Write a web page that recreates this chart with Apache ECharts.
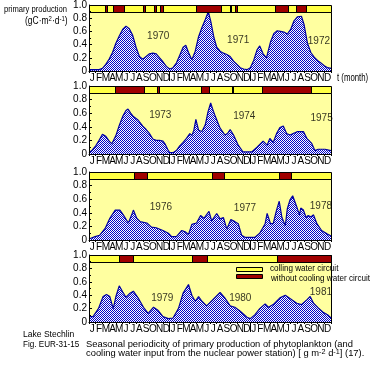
<!DOCTYPE html>
<html><head><meta charset="utf-8">
<script src="https://cdn.jsdelivr.net/npm/echarts@6/dist/echarts.min.js"></script>
<style>html,body{margin:0;padding:0;background:#fff}#c{width:381px;height:370px}</style>
</head><body><div id="c"></div>
<script>
const MONTHS = ['J','F','M','A','M','J','J','A','S','O','N','D'];
const Y_LABELS = ['0','0.2','0.4','0.6','0.8','1.0'];
// primary production per panel: [month since start of first year, value]
const prod1970 = [[0,0.02],[0.5,0.02],[1,0.02],[1.5,0.02],[2,0.04],[2.5,0.1],[3,0.18],[3.5,0.28],[4,0.42],[4.5,0.53],[5,0.63],[5.5,0.68],[6,0.64],[6.5,0.54],[7,0.36],[7.5,0.22],[8,0.18],[8.5,0.22],[9,0.26],[9.5,0.27],[10,0.26],[10.5,0.2],[11,0.14],[11.5,0.07],[12,0.03],[12.5,0.05],[13,0.12],[13.5,0.24],[14,0.36],[14.4,0.39],[14.8,0.28],[15.3,0.17],[15.8,0.3],[16.3,0.52],[16.8,0.66],[17.3,0.78],[17.75,0.9],[18.1,0.76],[18.6,0.5],[19,0.36],[19.5,0.3],[20,0.27],[20.5,0.25],[21,0.22],[21.5,0.15],[22,0.1],[22.5,0.05],[23,0.03],[23.5,0.02],[24,0.05],[24.5,0.16],[25,0.32],[25.4,0.38],[25.9,0.26],[26.4,0.2],[27,0.44],[27.5,0.57],[28,0.61],[28.5,0.6],[29,0.59],[29.5,0.56],[30,0.63],[30.5,0.76],[31,0.82],[31.6,0.83],[32,0.7],[32.5,0.42],[33,0.28],[33.5,0.21],[34,0.16],[34.5,0.12],[35,0.08],[35.5,0.05],[36,0.04]];
const prod1973 = [[0,0.02],[0.5,0.06],[1,0.12],[1.5,0.2],[2,0.29],[2.2,0.3],[2.5,0.26],[3,0.19],[3.4,0.15],[4,0.27],[4.5,0.42],[5,0.55],[5.5,0.64],[5.8,0.66],[6.2,0.6],[6.6,0.55],[7.3,0.5],[8,0.41],[8.5,0.36],[9,0.3],[9.5,0.22],[10,0.2],[10.5,0.2],[11,0.19],[11.3,0.15],[11.7,0.07],[12,0.02],[12.5,0.02],[13,0.05],[13.5,0.12],[14,0.17],[14.5,0.23],[15,0.3],[15.3,0.27],[15.6,0.35],[15.9,0.51],[16.3,0.35],[16.8,0.33],[17.3,0.43],[17.7,0.62],[18.1,0.75],[18.4,0.66],[18.8,0.55],[19.5,0.38],[20.2,0.28],[20.6,0.3],[21,0.36],[21.5,0.28],[22.2,0.13],[22.9,0.03],[23.5,0.03],[24.2,0.03],[25,0.1],[25.9,0.19],[26.5,0.13],[26.9,0.23],[27.4,0.17],[27.9,0.3],[28.4,0.39],[28.9,0.41],[29.4,0.3],[29.9,0.28],[30.6,0.31],[31,0.33],[31.9,0.33],[32.4,0.23],[33.1,0.16],[33.6,0.05],[34.1,0.07],[35.1,0.07],[36,0.05]];
const prod1976 = [[0,0.015],[0.9,0.05],[1.6,0.07],[2.4,0.17],[3.1,0.32],[3.9,0.44],[4.6,0.44],[5.1,0.37],[5.85,0.25],[6.35,0.37],[6.6,0.44],[7.1,0.32],[7.6,0.27],[8.6,0.25],[9.3,0.19],[10,0.18],[11,0.14],[11.8,0.1],[12.3,0.05],[13,0.05],[13.8,0.14],[14.3,0.12],[14.8,0.08],[15.3,0.23],[16,0.25],[16.6,0.36],[17.1,0.32],[17.85,0.42],[18.25,0.28],[19,0.39],[19.5,0.31],[20,0.33],[20.5,0.16],[21.1,0.3],[21.7,0.27],[22.2,0.24],[22.7,0.07],[23.2,0.04],[24.7,0.04],[25.4,0.1],[26.2,0.24],[26.5,0.39],[27,0.24],[27.4,0.24],[27.9,0.44],[28.3,0.57],[28.7,0.33],[29.2,0.21],[29.5,0.46],[29.9,0.59],[30.3,0.65],[30.9,0.49],[31.3,0.37],[31.5,0.47],[31.9,0.44],[32.3,0.33],[32.6,0.36],[33,0.34],[33.4,0.37],[33.9,0.24],[34.6,0.14],[35.4,0.09],[36,0.06]];
const prod1979 = [[0,0.08],[0.6,0.08],[1.4,0.2],[2.1,0.38],[2.6,0.41],[3.1,0.38],[3.6,0.2],[4,0.38],[4.5,0.54],[5,0.45],[5.5,0.37],[6.1,0.43],[6.6,0.46],[7.3,0.36],[8.1,0.22],[8.8,0.13],[9.6,0.22],[10.3,0.17],[11,0.08],[11.8,0.05],[12.5,0.06],[13.3,0.2],[14,0.43],[14.8,0.56],[15.3,0.4],[15.8,0.31],[16.3,0.38],[16.8,0.31],[17.5,0.24],[18.5,0.34],[19.5,0.44],[19.7,0.45],[20.2,0.36],[21,0.24],[21.7,0.22],[22.5,0.16],[23.5,0.07],[24,0.05],[24.7,0.11],[25.4,0.2],[26.2,0.27],[26.7,0.22],[27.4,0.26],[28.4,0.36],[29.2,0.4],[29.9,0.35],[30.9,0.28],[31.6,0.26],[32.4,0.33],[32.9,0.38],[33.4,0.28],[34.1,0.21],[34.9,0.14],[35.6,0.1],[36,0.06]];
// periods without cooling water circuit: [start month, end month]
const noCool1970 = [[2.42,2.72],[3.62,5.21],[8.08,8.38],[9.67,9.97],[10.56,11.05],[15.92,19.59],[20.98,21.17],[21.72,22.06],[27.67,29.65],[30.79,32.28]];
const noCool1973 = [[3.91,8.18],[10.12,10.46],[16.62,17.9],[21.23,21.38],[25.69,33.03]];
const noCool1976 = [[6.74,8.58],[18.25,20.13],[28.22,30.1]];
const noCool1979 = [[4.42,6.59],[15.37,17.6],[27.92,36]];
// year annotations: [month, value, label]
const years1970 = [[10.3,0.53,'1970'],[22.2,0.47,'1971'],[34.2,0.455,'1972']];
const years1973 = [[10.6,0.57,'1973'],[23.1,0.56,'1974'],[34.6,0.525,'1975']];
const years1976 = [[10.7,0.48,'1976'],[23.2,0.465,'1977'],[34.5,0.5,'1978']];
const years1979 = [[10.9,0.36,'1979'],[22.5,0.36,'1980'],[34.5,0.45,'1981']];

const panels = [
  {prod: prod1970, red: noCool1970, years: years1970, top: 5, h: 66},
  {prod: prod1973, red: noCool1973, years: years1973, top: 86, h: 68},
  {prod: prod1976, red: noCool1976, years: years1976, top: 172, h: 68},
  {prod: prod1979, red: noCool1979, years: years1979, top: 255, h: 67}
];

function pat(c1, c2) {
  const cv = document.createElement('canvas'); cv.width = 2; cv.height = 2;
  const x = cv.getContext('2d');
  x.fillStyle = c2; x.fillRect(0, 0, 2, 2);
  x.fillStyle = c1; x.fillRect(0, 0, 1, 1); x.fillRect(1, 1, 1, 1);
  return {image: cv, repeat: 'repeat'};
}
const blueDither = pat('#0000c8', '#ffffff');
const PLOT_BG = '#ffffa0';
const YEL = '#ffff44', RED = '#a00000';
const FONT = 'Liberation Sans, Arial, sans-serif';

const monthTicks = [], monthCenters = [];
for (let i = 0; i <= 36; i++) monthTicks.push(i);
for (let i = 0; i < 36; i++) monthCenters.push([i + 0.5, MONTHS[i % 12]]);

function rectItem(api, xa, xb, ya, yb, fill) {
  const a = api.coord([xa, yb]);
  const b = api.coord([xb, ya]);
  const x0 = Math.round(a[0]) + 0.5, x1 = Math.round(b[0]) + 0.5;
  const y0 = Math.round(a[1]) + 0.5, y1 = Math.round(b[1]) + 0.5;
  return {type: 'rect', shape: {x: x0, y: y0, width: Math.max(1, x1 - x0), height: y1 - y0},
    style: {fill: fill, stroke: '#000', lineWidth: 1}};
}

const grid = [], xAxis = [], yAxis = [], series = [];
panels.forEach((p, i) => {
  grid.push({left: 89, width: 242, top: p.top, height: p.h, show: false});
  xAxis.push({type: 'value', gridIndex: i, min: 0, max: 36, position: 'bottom', z: 5,
    splitLine: {show: false},
    axisLine: {show: true, lineStyle: {color: '#000', width: 1}},
    axisTick: {show: true, customValues: monthTicks, length: 2, lineStyle: {color: '#000'}},
    axisLabel: {show: false}});
  xAxis.push({type: 'value', gridIndex: i, min: 0, max: 36, position: 'bottom', z: 5,
    splitLine: {show: false}, axisLine: {show: false},
    axisTick: {show: true, customValues: [12, 24], length: 10, lineStyle: {color: '#000'}},
    axisLabel: {show: false}});
  yAxis.push({type: 'value', gridIndex: i, min: 0, max: 1, interval: 0.2, z: 5,
    splitLine: {show: false},
    axisLine: {show: true, lineStyle: {color: '#000'}},
    axisTick: {show: true, inside: true, length: 3, lineStyle: {color: '#000'}},
    minorTick: {show: true, splitNumber: 2, length: 2, lineStyle: {color: '#000'}},
    axisLabel: {color: '#000', fontFamily: FONT, fontSize: 10, margin: 2,
      formatter: v => Y_LABELS[Math.round(v * 5)]}});
  // plot background (0 .. 0.9)
  series.push({type: 'custom', xAxisIndex: 2 * i, yAxisIndex: i, data: [[0, 36]], z: 1,
    animation: false, silent: true,
    renderItem: (params, api) => rectItem(api, api.value(0), api.value(1), 0, 0.9, PLOT_BG),
    encode: {x: [0, 1]}});
  series.push({type: 'line', xAxisIndex: 2 * i, yAxisIndex: i, data: p.prod, z: 2,
    showSymbol: false, symbol: 'none', silent: true, animation: false,
    lineStyle: {color: '#0000a0', width: 1.2},
    areaStyle: {color: blueDither, opacity: 1}});
  const segs = [[0, 36, 0]].concat(p.red.map(r => [r[0], r[1], 1]));
  series.push({type: 'custom', xAxisIndex: 2 * i, yAxisIndex: i, data: segs, z: 3,
    animation: false, silent: true,
    renderItem: (params, api) => rectItem(api, api.value(0), api.value(1), 0.9, 1,
      api.value(2) === 1 ? RED : YEL),
    encode: {x: [0, 1]}});
  // month letters under the axis
  series.push({type: 'custom', xAxisIndex: 2 * i, yAxisIndex: i, data: monthCenters, z: 4,
    animation: false, silent: true, clip: false,
    dimensions: ['x', {name: 'm', type: 'ordinal'}],
    renderItem: (params, api) => {
      const c = api.coord([api.value(0), 0]);
      return {type: 'text', x: c[0], y: c[1] + 2,
        style: {text: MONTHS[params.dataIndex % 12], fill: '#000', font: '10px ' + FONT,
          align: 'center', verticalAlign: 'top'}};
    },
    encode: {x: 0}});
  series.push({type: 'scatter', xAxisIndex: 2 * i, yAxisIndex: i, data: p.years, z: 4,
    symbolSize: 0, silent: true, animation: false,
    label: {show: true, position: 'inside', color: '#000', fontFamily: FONT, fontSize: 10,
      formatter: q => q.value[2]}});
});

const txt = (x, y, s, sx, font, rich) => ({type: 'text', x, y, scaleX: sx, z: 100,
  style: {text: s, fill: '#000', font: (font || '10px') + ' ' + FONT, rich: rich}});
const supRich = {s: {fontSize: 7, fontFamily: FONT, verticalAlign: 'top', padding: [0, 0, 4, 0]}};

const chart = echarts.init(document.getElementById('c'), null, {renderer: 'canvas'});
chart.setOption({
  animation: false,
  grid, xAxis, yAxis, series,
  graphic: [
    txt(4, 4, 'primary production', 0.8, '9.5px'),
    txt(25, 16, '(gC·m{s|2}·d{s|-1})', 0.85, '10px', supRich),
    txt(337, 73, 't (month)', 0.78),
    {type: 'rect', z: 100, shape: {x: 236.5, y: 267.5, width: 26, height: 4}, style: {fill: YEL, stroke: '#000', lineWidth: 1}},
    {type: 'rect', z: 100, shape: {x: 236.5, y: 274.5, width: 26, height: 4}, style: {fill: RED, stroke: '#000', lineWidth: 1}},
    txt(270, 264, 'colling water circuit', 0.9, '9px'),
    txt(271, 274, 'without cooling water circuit', 0.9, '9px'),
    txt(23, 330, 'Lake Stechlin', 0.95, '9px'),
    txt(23, 340, 'Fig. EUR-31-15', 0.9, '9px'),
    txt(86, 340, 'Seasonal periodicity of primary production of phytoplankton (and', 1.04, '9px'),
    txt(86, 349, 'cooling water input from the nuclear power station) [ g m{s|-2} d{s|-1}] (17).', 1.04, '9px',
      {s: {fontSize: 7, fontFamily: FONT, verticalAlign: 'top', padding: [0, 0, 3, 0]}})
  ]
});
</script>
</body></html>
